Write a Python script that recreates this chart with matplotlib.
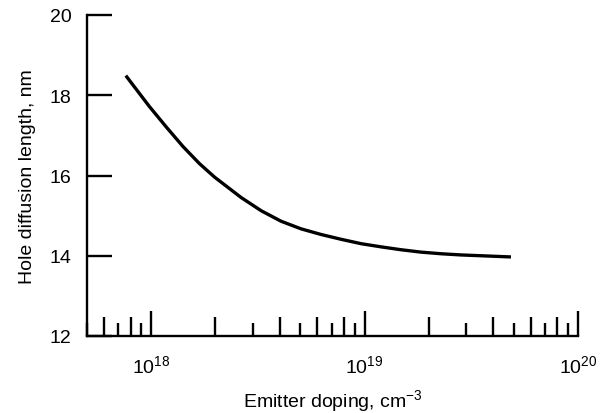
import matplotlib
matplotlib.use("Agg")
import matplotlib.pyplot as plt
from matplotlib.ticker import LogLocator, NullFormatter, FixedLocator, FixedFormatter

plt.rcParams['font.family'] = ['Liberation Sans', 'DejaVu Sans']
plt.rcParams['mathtext.fontset'] = 'custom'
plt.rcParams['mathtext.rm'] = 'Liberation Sans'
plt.rcParams['mathtext.it'] = 'Liberation Sans'
plt.rcParams['mathtext.default'] = 'regular'

# Data
doping = [7.6e17, 9.8e17, 1.18e18, 1.41e18, 1.68e18, 1.98e18, 2.64e18,
          3.28e18, 4.06e18, 5.04e18, 6.25e18, 7.76e18, 9.64e18, 1.2e19,
          1.48e19, 1.84e19, 2.28e19, 2.83e19, 3.52e19, 4.85e19]
diff_len = [18.49, 17.72, 17.20, 16.72, 16.30, 15.96, 15.45,
            15.12, 14.86, 14.67, 14.53, 14.41, 14.30, 14.22,
            14.15, 14.09, 14.05, 14.02, 14.00, 13.97]

y_ticks = [12, 14, 16, 18, 20]
x_major = [1e18, 1e19, 1e20]
x_major_labels = ['10$^{18}$', '10$^{19}$', '10$^{20}$']
x_limits = (5e17, 1e20)
y_limits = (12, 20)

fig = plt.figure(figsize=(6.01, 4.14), dpi=100)
ax = fig.add_axes([87/601, 1-337/414, (578-87)/601, (337-16)/414])

ax.plot(doping, diff_len, color='black', lw=2.4, solid_capstyle='butt',
        solid_joinstyle='round')

ax.set_xscale('log')
ax.set_xlim(*x_limits)
ax.set_ylim(*y_limits)

for s in ['top', 'right']:
    ax.spines[s].set_visible(False)
for s in ['left', 'bottom']:
    ax.spines[s].set_linewidth(1.7)

ax.set_yticks(y_ticks)
ax.tick_params(axis='y', direction='in', length=18, width=1.7, labelsize=14, pad=11)

ax.xaxis.set_major_locator(FixedLocator(x_major))
ax.xaxis.set_major_formatter(FixedFormatter(x_major_labels))
ax.xaxis.set_minor_locator(LogLocator(base=10, subs=[3, 5, 7, 9]))
ax.xaxis.set_minor_formatter(NullFormatter())
ax.tick_params(axis='x', which='major', direction='in', length=18, width=1.7,
               labelsize=14, pad=13)
ax.tick_params(axis='x', which='minor', direction='in', length=9.5, width=1.7)

sec = ax.secondary_xaxis('bottom')
sec.xaxis.set_major_locator(LogLocator(base=10, subs=[2, 4, 6, 8]))
sec.xaxis.set_major_formatter(NullFormatter())
sec.xaxis.set_minor_locator(FixedLocator([]))
sec.tick_params(axis='x', which='major', direction='in', length=14, width=1.7)
sec.spines['bottom'].set_visible(False)

ax.set_xlabel('Emitter doping, cm$^{-3}$', fontsize=14, labelpad=8)
ax.set_ylabel('Hole diffusion length, nm', fontsize=14, labelpad=10)

fig.savefig('out.png', dpi=100)
